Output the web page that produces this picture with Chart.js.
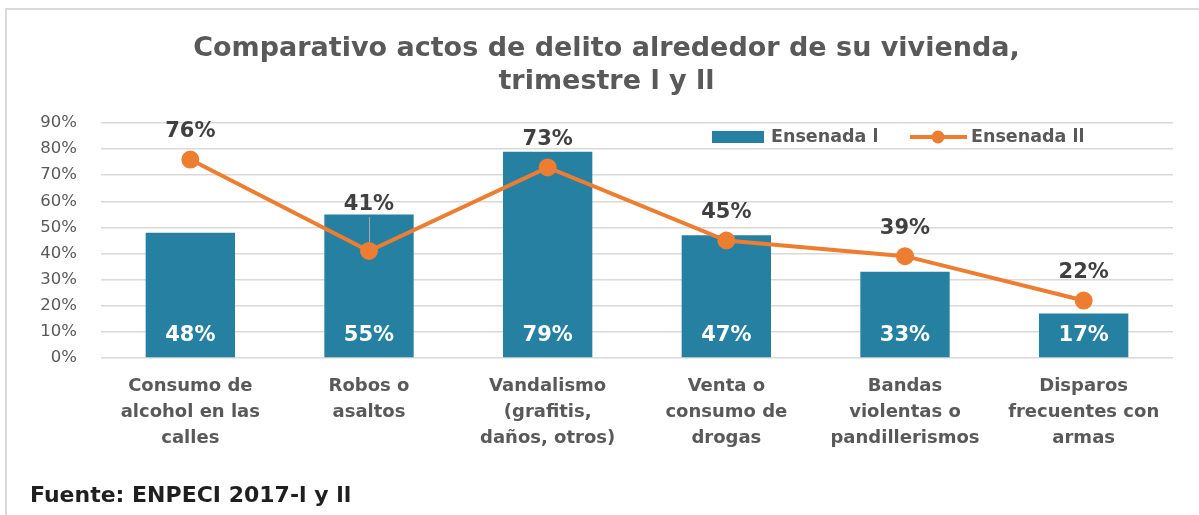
<!DOCTYPE html>
<html>
<head>
<meta charset="utf-8">
<script src="https://cdn.jsdelivr.net/npm/chart.js@4.4.1/dist/chart.umd.min.js"></script>
<style>
  html, body { margin: 0; padding: 0; background: #fff; }
  #wrap { position: relative; width: 1199px; height: 515px; }
</style>
</head>
<body>
<div id="wrap"><canvas id="chart"></canvas></div>
<script>
// Categories
const categories = [
    ['Consumo de', 'alcohol en las', 'calles'],
    ['Robos o', 'asaltos'],
    ['Vandalismo', '(grafitis,', 'daños, otros)'],
    ['Venta o', 'consumo de', 'drogas'],
    ['Bandas', 'violentas o', 'pandillerismos'],
    ['Disparos', 'frecuentes con', 'armas']
];

// Series values (percent)
const ensenadaI = [48, 55, 79, 47, 33, 17];
const ensenadaII = [76, 41, 73, 45, 39, 22];

// Axis ticks
const yTicks = [0, 10, 20, 30, 40, 50, 60, 70, 80, 90];

const seriesNames = ['Ensenada l', 'Ensenada ll'];
const titleLines = ['Comparativo actos de delito alrededor de su vivienda,', 'trimestre l y ll'];
const sourceText = 'Fuente: ENPECI 2017-l y ll';

// Colors / fonts
const barColor = '#2680A1';
const lineColor = '#ED7D31';
const textGray = '#595959';
const fontFamily = '"DejaVu Sans", sans-serif';

// Custom drawing: frame, data labels, legend, source
const extrasPlugin = {
    id: 'extras',
    beforeDraw: function (chart) {
        var ctx = chart.ctx;
        ctx.save();
        ctx.strokeStyle = '#d9d9d9';
        ctx.lineWidth = 2;
        ctx.beginPath();
        ctx.moveTo(6, 520);
        ctx.lineTo(6, 9);
        ctx.lineTo(1205, 9);
        ctx.stroke();
        ctx.restore();
    },
    afterDatasetDraw: function (chart, args) {
        if (args.index !== 0) return;
        // leader line for the label that sits above the bar
        var ctx = chart.ctx;
        var p = chart.getDatasetMeta(1).data[1];
        ctx.save();
        ctx.strokeStyle = '#a6a6a6';
        ctx.lineWidth = 1;
        ctx.beginPath();
        ctx.moveTo(Math.round(p.x) + 0.5, p.y - 46 + 12);
        ctx.lineTo(Math.round(p.x) + 0.5, p.y);
        ctx.stroke();
        ctx.restore();
    },
    afterDatasetsDraw: function (chart) {
        var ctx = chart.ctx;
        var zeroY = chart.scales.y.getPixelForValue(0);
        ctx.save();
        ctx.textAlign = 'center';
        ctx.textBaseline = 'middle';
        ctx.font = 'bold 21px ' + fontFamily;

        // bar labels
        ctx.fillStyle = '#ffffff';
        chart.getDatasetMeta(0).data.forEach(function (bar, i) {
            ctx.fillText(ensenadaI[i] + '%', bar.x, zeroY - 22);
        });

        // line labels
        ctx.fillStyle = '#404040';
        chart.getDatasetMeta(1).data.forEach(function (pt, i) {
            var off = (i === 1) ? 46 : 28;
            ctx.fillText(ensenadaII[i] + '%', pt.x, pt.y - off);
        });
        ctx.restore();
    },
    afterDraw: function (chart) {
        var ctx = chart.ctx;
        ctx.save();
        ctx.textBaseline = 'middle';
        ctx.textAlign = 'left';

        // legend
        var ly = 137;
        ctx.fillStyle = barColor;
        ctx.fillRect(712, 131, 52, 12);
        ctx.font = 'bold 17.5px ' + fontFamily;
        ctx.fillStyle = textGray;
        ctx.fillText(seriesNames[0], 771, ly);

        ctx.strokeStyle = lineColor;
        ctx.lineWidth = 4;
        ctx.beginPath();
        ctx.moveTo(910, ly);
        ctx.lineTo(967, ly);
        ctx.stroke();
        ctx.fillStyle = lineColor;
        ctx.beginPath();
        ctx.arc(938, ly, 6.5, 0, Math.PI * 2);
        ctx.fill();
        ctx.fillStyle = textGray;
        ctx.fillText(seriesNames[1], 971, ly);

        // source
        ctx.font = 'bold 22px ' + fontFamily;
        ctx.fillStyle = '#1f1f1f';
        ctx.fillText(sourceText, 30, 496);
        ctx.restore();
    }
};

const data = {
    labels: categories,
    datasets: [
        {
            type: 'bar',
            label: seriesNames[0],
            data: ensenadaI,
            backgroundColor: barColor,
            barPercentage: 0.5,
            categoryPercentage: 1.0,
            order: 1
        },
        {
            type: 'line',
            label: seriesNames[1],
            data: ensenadaII,
            borderColor: lineColor,
            backgroundColor: lineColor,
            borderWidth: 4,
            pointRadius: 7,
            pointBackgroundColor: lineColor,
            pointBorderColor: lineColor,
            tension: 0,
            order: 0
        }
    ]
};

const config = {
    type: 'bar',
    data: data,
    options: {
        responsive: true,
        maintainAspectRatio: false,
        animation: false,
        layout: {
            padding: { left: 14, right: 0, top: 0, bottom: 57 }
        },
        plugins: {
            legend: { display: false },
            tooltip: { enabled: false },
            title: {
                display: true,
                text: titleLines,
                color: textGray,
                font: { family: fontFamily, size: 27, weight: 'bold', lineHeight: 1.222 },
                padding: { top: 32, bottom: 25 }
            }
        },
        scales: {
            x: {
                grid: { display: false },
                border: { display: false },
                ticks: {
                    color: textGray,
                    font: { family: fontFamily, size: 18, weight: 'bold', lineHeight: 1.45 },
                    maxRotation: 0,
                    autoSkip: false,
                    padding: 7
                },
                afterFit: function (scale) { scale.height = 100; }
            },
            y: {
                min: 0,
                max: 90,
                afterBuildTicks: function (scale) {
                    scale.ticks = yTicks.map(function (v) { return { value: v }; });
                },
                grid: { color: '#d9d9d9', lineWidth: 1.5, drawTicks: false },
                border: { display: false },
                ticks: {
                    color: textGray,
                    font: { family: fontFamily, size: 16.5 },
                    padding: 24,
                    callback: function (v) { return v + '%'; }
                },
                afterFit: function (scale) { scale.width = 87; }
            },
            // empty right-hand spacer so the plot ends where the reference does
            spacer: {
                position: 'right',
                display: true,
                grid: { display: false },
                border: { display: false },
                ticks: { display: false },
                afterFit: function (scale) { scale.width = 26; }
            }
        }
    },
    plugins: [extrasPlugin]
};

var myChart = new Chart(document.getElementById('chart'), config);
</script>
</body>
</html>
